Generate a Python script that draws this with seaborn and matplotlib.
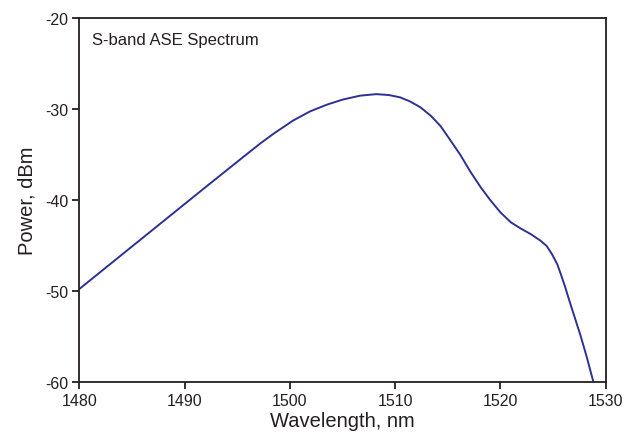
import matplotlib
matplotlib.use("Agg")
import matplotlib.pyplot as plt
import seaborn as sns
import pandas as pd

wavelength = [1480.0, 1483.0, 1486.0, 1489.0, 1492.0, 1494.0, 1496.0, 1497.2, 1498.5, 1500.3,
              1501.9, 1503.5, 1505.0, 1506.65, 1508.2, 1509.4, 1510.45, 1511.4, 1512.4, 1513.4,
              1514.3, 1515.2, 1516.2, 1517.1, 1518.1, 1519.0, 1520.0, 1521.0, 1521.9, 1522.9,
              1523.8, 1524.4, 1524.9, 1525.4, 1525.8, 1526.2, 1526.6, 1527.1, 1527.6, 1528.2,
              1528.8]
power_dbm = [-49.8, -47.0, -44.2, -41.4, -38.6, -36.75, -34.9, -33.8, -32.7, -31.3,
             -30.3, -29.56, -29.0, -28.57, -28.4, -28.5, -28.75, -29.2, -29.85, -30.8,
             -31.9, -33.4, -35.1, -36.85, -38.6, -40.0, -41.4, -42.5, -43.15, -43.8,
             -44.5, -45.1, -46.0, -47.1, -48.4, -49.8, -51.3, -53.1, -54.9, -57.3,
             -59.9]
x_ticks = [1480, 1490, 1500, 1510, 1520, 1530]
y_ticks = [-60, -50, -40, -30, -20]
annotation = "S-band ASE Spectrum"

df = pd.DataFrame({"Wavelength": wavelength, "Power": power_dbm})

sns.set_theme(style="white")
plt.rcParams["font.family"] = ["Liberation Sans", "DejaVu Sans"]

fig = plt.figure(figsize=(6.24, 4.39), dpi=100)
ax = fig.add_axes([0.1274, 0.1283, 0.8433, 0.8291])

sns.lineplot(data=df, x="Wavelength", y="Power", ax=ax, color="#2e3192",
             linewidth=1.4, estimator=None, sort=False)

ax.set_xlim(1480, 1530)
ax.set_ylim(-60, -20)
ax.set_xticks(x_ticks)
ax.set_yticks(y_ticks)
ax.set_xticklabels([str(v) for v in x_ticks])
ax.set_yticklabels([str(v) for v in y_ticks])

for s in ax.spines.values():
    s.set_visible(True)
    s.set_color("#231f20")
    s.set_linewidth(1.3)

ax.tick_params(axis="both", which="major", direction="out", length=5, width=1.3,
               color="#231f20", labelsize=11.5, labelcolor="#231f20", pad=3,
               bottom=True, left=True, top=False, right=False)

ax.set_xlabel("Wavelength, nm", fontsize=14.5, color="#231f20", labelpad=2)
ax.set_ylabel("Power, dBm", fontsize=14.5, color="#231f20", labelpad=6)

ax.text(1481.2, -22.4, annotation, fontsize=12, color="#231f20",
        ha="left", va="center")

ax.grid(False)
fig.savefig("out.png", dpi=100)
